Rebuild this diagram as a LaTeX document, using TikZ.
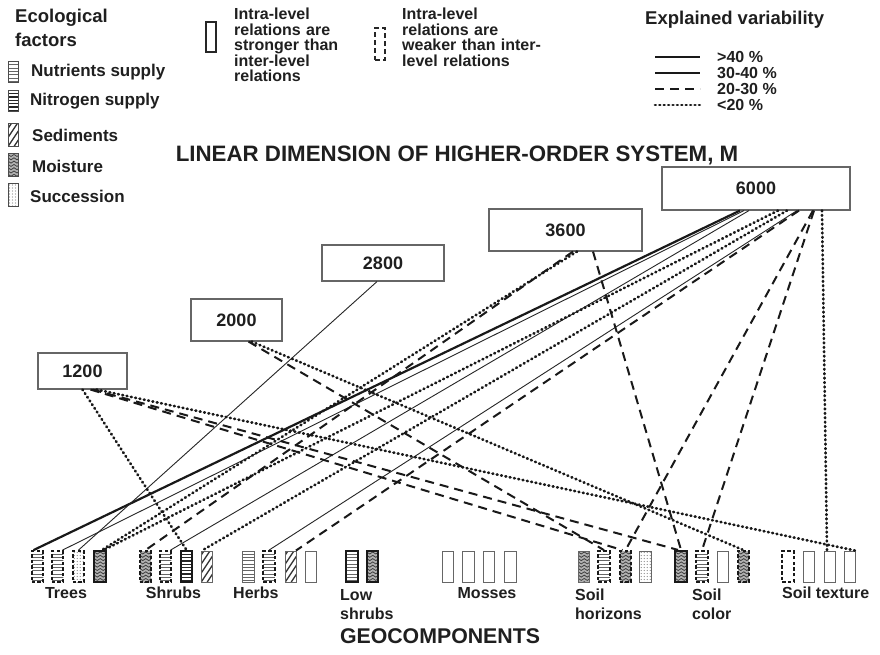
\documentclass[tikz,border=0pt]{standalone}
\usepackage{fontspec}
\setmainfont{Liberation Sans}
\newcommand\myfs[1]{\fontsize{#1}{#1}\selectfont}
\begin{document}
\begin{tikzpicture}[x=1pt,y=-1pt,
 every node/.style={font=\bfseries, text=black!88},
 numbox/.style={draw=black!60, line width=1.1pt, inner sep=0pt, font=\bfseries\myfs{18}},
 gbox/.style={draw=black!80, line width=1.1pt, inner sep=0pt, minimum width=11.5pt, minimum height=31pt},
 lbox/.style={draw=black!70, line width=1pt, inner sep=0pt, minimum width=10pt, minimum height=21pt},
 thk/.style={line width=2.2pt, draw=black!90},
 thn/.style={line width=1pt, draw=black!60},
 dsh/.style={line width=1.8pt, dash pattern=on 3.5pt off 2.2pt, draw=black!90},
 pNut/.style={path picture={\foreach \k in {1,...,9}{\draw[solid,line width=0.9pt,black!60] ([yshift=-\k*3.3pt]path picture bounding box.north west) -- ++(20pt,0pt);}}},
 pNit/.style={path picture={\foreach \k in {1,...,9}{\draw[solid,line width=1.3pt,black!85] ([yshift=-\k*3.3pt]path picture bounding box.north west) -- ++(20pt,0pt);}}},
 pSed/.style={path picture={\foreach \k in {-8,...,2}{\draw[solid,line width=1.3pt,black!80] ([xshift=\k*6pt]path picture bounding box.south west) -- ++(24pt,36pt);}}},
 pMoi/.style={path picture={\fill[black!30] (path picture bounding box.south west) rectangle (path picture bounding box.north east);
   \foreach \k in {0,...,9}{\draw[solid,line width=0.8pt,black!75] ([yshift=-\k*3.3pt-1pt]path picture bounding box.north west) -- ++(3pt,-2pt) -- ++(3pt,2pt) -- ++(3pt,-2pt) -- ++(3pt,2pt);}}},
 pSuc/.style={path picture={\foreach \i in {0,...,3}{\foreach \j in {0,...,10}{\fill[black!45] ([xshift=\i*3pt+1.5pt,yshift=-\j*3pt-1.5pt]path picture bounding box.north west) circle[radius=0.55pt];}}}},
 L40/.style={line width=2.2pt, black!90},
 L30/.style={line width=0.9pt, black!85},
 L20/.style={line width=2pt, dash pattern=on 9pt off 6pt, black!90},
 L10/.style={line width=2.7pt, dash pattern=on 0.8pt off 3.6pt, line cap=round, black!90},
 lab/.style={font=\bfseries\myfs{16}, inner sep=0pt, anchor=base},
 labl/.style={font=\bfseries\myfs{16}, inner sep=0pt, anchor=base west, align=left},
 leg/.style={font=\bfseries\myfs{17}, anchor=west, inner sep=0pt},
]
\useasboundingbox[fill=white] (0,0) rectangle (880,654);

% ---------- legend left
\node[font=\bfseries\myfs{18.5}, anchor=west, inner sep=0pt] (eco1) at (15,18) {Ecological};
\node[font=\bfseries\myfs{18.5}, anchor=west, inner sep=0pt] (eco2) at (15,40) {factors};
\node[lbox,pNut] (ic1) at (13,72) {};
\node[lbox,pNit] (ic2) at (13,101) {};
\node[lbox,pSed,minimum height=23pt] (ic3) at (13,135) {};
\node[lbox,pMoi,minimum height=23pt] (ic4) at (13,165) {};
\node[lbox,pSuc,minimum height=23pt] (ic5) at (13,195) {};
\node[leg] (tx1) at (31,72) {Nutrients supply};
\node[leg] (tx2) at (30,101) {Nitrogen supply};
\node[leg] (tx3) at (32,135) {Sediments};
\node[leg] (tx4) at (32,166) {Moisture};
\node[leg] (tx5) at (30,196) {Succession};

% ---------- legend middle
\node[draw=black!85, line width=1.6pt, minimum width=10pt, minimum height=30pt, inner sep=0pt] (strong) at (211,37) {};
\node[font=\bfseries\myfs{16}, anchor=north west, align=left, inner sep=0pt, text width=125pt,
      execute at begin node={\baselineskip=15.5pt}] (strongtx) at (234,8) {Intra-level\\relations are\\stronger than\\inter-level\\relations};
\node[draw=black!85, line width=1.6pt, dash pattern=on 5pt off 3pt, minimum width=10pt, minimum height=32pt, inner sep=0pt] (weak) at (380,44) {};
\node[font=\bfseries\myfs{16}, anchor=north west, align=left, inner sep=0pt, text width=145pt,
      execute at begin node={\baselineskip=15.5pt}] (weaktx) at (402,8) {Intra-level\\relations are\\weaker than inter-\\level relations};

% ---------- legend right
\node[font=\bfseries\myfs{18.5}, anchor=west, inner sep=0pt] (expl) at (645,20) {Explained variability};
\coordinate (la1) at (655,57); \coordinate (lb1) at (700,57);
\coordinate (la2) at (655,73); \coordinate (lb2) at (700,73);
\coordinate (la3) at (655,89); \coordinate (lb3) at (700,89);
\coordinate (la4) at (655,105); \coordinate (lb4) at (700,105);
\draw[L40] (la1) -- (lb1);
\draw[line width=1.4pt, black!90] (la2) -- (lb2);
\draw[line width=2pt, dash pattern=on 9pt off 6pt, black!90] (la3) -- (lb3);
\draw[L10] (la4) -- (lb4);
\node[font=\bfseries\myfs{16}, anchor=west, inner sep=0pt] (v1) at (717,57) {>40 \%};
\node[font=\bfseries\myfs{16}, anchor=west, inner sep=0pt] (v2) at (717,73) {30-40 \%};
\node[font=\bfseries\myfs{16}, anchor=west, inner sep=0pt] (v3) at (717,89) {20-30 \%};
\node[font=\bfseries\myfs{16}, anchor=west, inner sep=0pt] (v4) at (717,105) {<20 \%};

% ---------- titles
\node[font=\bfseries\myfs{22.3}, inner sep=0pt] (title) at (457,155) {LINEAR DIMENSION OF HIGHER-ORDER SYSTEM, M};
\node[font=\bfseries\myfs{21.3}, inner sep=0pt] (geo) at (440,636) {GEOCOMPONENTS};

% ---------- number boxes
\node[numbox, minimum width=89pt, minimum height=36pt] (b1200) at (82.5,371) {1200};
\node[numbox, minimum width=91pt, minimum height=42pt] (b2000) at (236.5,320) {2000};
\node[numbox, minimum width=122pt, minimum height=36pt] (b2800) at (383,263) {2800};
\node[numbox, minimum width=153pt, minimum height=42pt] (b3600) at (565.5,230) {3600};
\node[numbox, minimum width=188pt, minimum height=43pt] (b6000) at (756,188.5) {6000};

% ---------- geocomponent boxes
\def\gy{566.5}
\node[gbox,dsh,pNut] (t1) at (37.5,\gy) {};
\node[gbox,dsh,pNut] (t2) at (57.5,\gy) {};
\node[gbox,dsh,pSuc] (t3) at (78.5,\gy) {};
\node[gbox,thk,pMoi] (t4) at (100,\gy) {};
\node[gbox,dsh,pMoi] (s1) at (145.5,\gy) {};
\node[gbox,dsh,pNut] (s2) at (165.5,\gy) {};
\node[gbox,thk,pNit] (s3) at (186.5,\gy) {};
\node[gbox,thn,pSed] (s4) at (207,\gy) {};
\node[gbox,thn,pNut] (h1) at (248.5,\gy) {};
\node[gbox,dsh,pNut] (h2) at (269,\gy) {};
\node[gbox,thn,pSed] (h3) at (291,\gy) {};
\node[gbox,thn] (h4) at (311,\gy) {};
\node[gbox,thk,pNut] (l1) at (352,\gy) {};
\node[gbox,thk,pMoi] (l2) at (372.5,\gy) {};
\node[gbox,thn] (m1) at (448,\gy) {};
\node[gbox,thn] (m2) at (468.5,\gy) {};
\node[gbox,thn] (m3) at (489,\gy) {};
\node[gbox,thn] (m4) at (510.5,\gy) {};
\node[gbox,thn,pMoi] (sh1) at (584,\gy) {};
\node[gbox,dsh,pNut] (sh2) at (604,\gy) {};
\node[gbox,dsh,pMoi] (sh3) at (625.5,\gy) {};
\node[gbox,thn,pSuc] (sh4) at (645.5,\gy) {};
\node[gbox,thk,pMoi] (sc1) at (681,\gy) {};
\node[gbox,dsh,pNut] (sc2) at (702,\gy) {};
\node[gbox,thn] (sc3) at (723,\gy) {};
\node[gbox,dsh,pMoi] (sc4) at (743.5,\gy) {};
\node[gbox,dsh] (st1) at (788,\gy) {};
\node[gbox,thn] (st2) at (809,\gy) {};
\node[gbox,thn] (st3) at (830,\gy) {};
\node[gbox,thn] (st4) at (850,\gy) {};

% ---------- geocomponent labels
\node[lab] (ltrees) at (66,598) {Trees};
\node[lab] (lshrubs) at (173.5,598) {Shrubs};
\node[labl] (lherbs) at (233,598) {Herbs};
\node[labl, execute at begin node={\baselineskip=19pt}] (llow) at (340,619) {Low\\shrubs};
\node[lab] (lmoss) at (487,598) {Mosses};
\node[labl, execute at begin node={\baselineskip=19pt}] (lhor) at (575,619) {Soil\\horizons};
\node[labl, execute at begin node={\baselineskip=19pt}] (lcol) at (692,619) {Soil\\color};
\node[labl] (ltex) at (782,598) {Soil texture};

% ---------- connectors
% from 6000
\draw[L40] ([xshift=-16pt]b6000.south) -- ([xshift=-4pt]t1.north);
\draw[L30] ([xshift=-12pt]b6000.south) -- ([xshift=5pt]t2.north);
\draw[L30] ([xshift=-7pt]b6000.south) -- ([xshift=5pt]s2.north);
\draw[L10] ([xshift=22pt]b6000.south) -- ([xshift=4pt]t4.north);
\draw[L10] ([xshift=31pt]b6000.south) -- ([xshift=-5pt]s4.north);
\draw[L30] ([xshift=41pt]b6000.south) -- (h2.north);
\draw[L20] ([xshift=43pt]b6000.south) -- ([xshift=5pt]h3.north);
\draw[L20] ([xshift=57pt]b6000.south) -- (sh3.north);
\draw[L20] ([xshift=58pt]b6000.south) -- (sc2.north);
\draw[L10] ([xshift=66pt]b6000.south) -- ([xshift=-3pt]st3.north);
% from 3600
\draw[L10] ([xshift=11.5pt]b3600.south) -- ([xshift=2pt]t4.north);
\draw[L20] ([xshift=7.5pt]b3600.south) -- (s1.north);
\draw[L20] ([xshift=27.5pt]b3600.south) -- (sc1.north);
% from 2800
\draw[L30] ([xshift=-6pt]b2800.south) -- (t3.north);
% from 2000
\draw[L20] ([xshift=12pt]b2000.south) -- (sh2.north);
\draw[L10] ([xshift=15pt]b2000.south) -- (sc4.north);
% from 1200
\draw[L10] ([xshift=0pt]b1200.south) -- (s3.north);
\draw[L20] ([xshift=8pt]b1200.south) -- ([xshift=-3pt]sh3.north);
\draw[L20] ([xshift=10pt]b1200.south) -- ([xshift=-3pt]sc1.north);
\draw[L10] ([xshift=14pt]b1200.south) -- ([xshift=5pt]st4.north);
\end{tikzpicture}
\end{document}
